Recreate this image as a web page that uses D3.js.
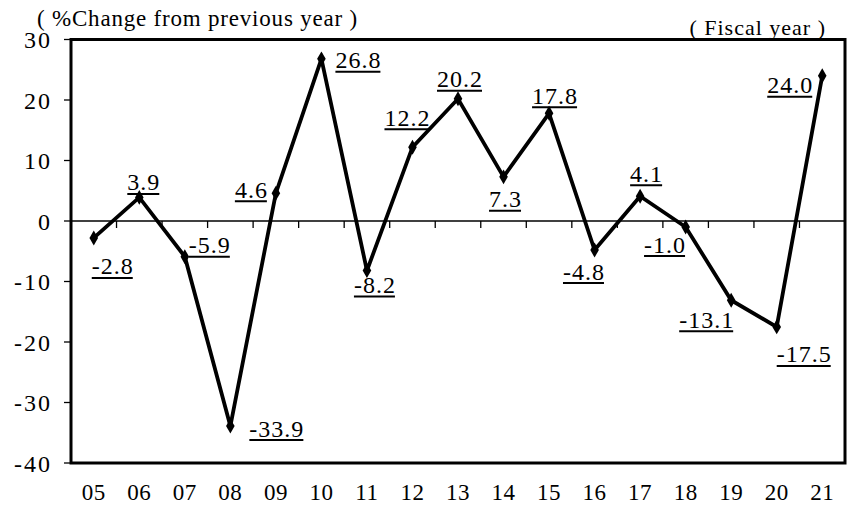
<!DOCTYPE html>
<html><head><meta charset="utf-8">
<script src="https://cdn.jsdelivr.net/npm/d3@7"></script>
<style>body{margin:0;background:#fff}svg{display:block}</style>
</head><body>
<svg id="c" width="854" height="505"></svg>
<script>
const years = ["05","06","07","08","09","10","11","12","13","14","15","16","17","18","19","20","21"];
const values = [-2.8,3.9,-5.9,-33.9,4.6,26.8,-8.2,12.2,20.2,7.3,17.8,-4.8,4.1,-1.0,-13.1,-17.5,24.0];
const yTicks = [30,20,10,0,-10,-20,-30,-40];
const yTitle = "( %Change from previous year )";
const xTitle = "( Fiscal year )";
// label placement: offset of text's left edge / underline from the point
const labelOffsets = [[-2,40],[-12,-3.5],[4,0],[19,14],[-41,8],[14,13],[-13,26],[-28,-18],[-21,-8],[-14.5,34],[-17,-6],[-31.6,33],[-10,-11],[-41.6,29],[-52,31],[0,39],[-55,21]];

const svg = d3.select("#c");
const L=71,R=845,T=39.5,B=463;
const x = d3.scaleBand().domain(years).range([L,R]);
const y = d3.scaleLinear().domain([-40,30]).range([B,T]);
const font = "'Liberation Serif','Times New Roman',serif";

// y ticks
svg.append("g").selectAll("line").data(yTicks).join("line")
  .attr("x1",L-7).attr("x2",L).attr("y1",d=>y(d)).attr("y2",d=>y(d))
  .attr("stroke","#000").attr("stroke-width",1.3);
svg.append("g").selectAll("text").data(yTicks).join("text")
  .attr("x",52).attr("y",d=>y(d)+8.5).attr("text-anchor","end")
  .attr("font-family",font).attr("font-size",24).attr("letter-spacing",2)
  .text(d=>d);

// zero axis with category ticks
svg.append("line").attr("x1",L).attr("x2",R).attr("y1",y(0)).attr("y2",y(0))
  .attr("stroke","#000").attr("stroke-width",1.3);
svg.append("g").selectAll("line").data(years.slice(1)).join("line")
  .attr("x1",d=>x(d)).attr("x2",d=>x(d)).attr("y1",y(0)).attr("y2",y(0)+7)
  .attr("stroke","#000").attr("stroke-width",1.3);

// frame
svg.append("rect").attr("x",L).attr("y",T).attr("width",R-L).attr("height",B-T)
  .attr("fill","none").attr("stroke","#000").attr("stroke-width",3);

// x labels
svg.append("g").selectAll("text").data(years).join("text")
  .attr("x",d=>x(d)+x.bandwidth()/2).attr("y",500).attr("text-anchor","middle")
  .attr("font-family",font).attr("font-size",23).attr("letter-spacing",0.5)
  .text(d=>d);

// line
const pts = years.map((d,i)=>({k:d,v:values[i],i}));
svg.append("path").datum(pts)
  .attr("d",d3.line().x(d=>x(d.k)+x.bandwidth()/2).y(d=>y(d.v)))
  .attr("fill","none").attr("stroke","#000").attr("stroke-width",3.8).attr("stroke-linejoin","miter");
svg.append("g").selectAll("path").data(pts).join("path")
  .attr("transform",d=>`translate(${x(d.k)+x.bandwidth()/2},${y(d.v)})`)
  .attr("d",d3.symbol(d3.symbolDiamond,64)).attr("fill","#000");

// data labels with underline
const lg = svg.append("g");
pts.forEach(d=>{
  const px = x(d.k)+x.bandwidth()/2, py = y(d.v);
  const [dx,dy] = labelOffsets[d.i];
  const t = lg.append("text").attr("x",px+dx).attr("y",py+dy-3.5)
    .attr("font-family",font).attr("font-size",24).attr("letter-spacing",1)
    .text(d.v.toFixed(1));
  const w = t.node().getComputedTextLength()-1;
  lg.append("line").attr("x1",px+dx).attr("x2",px+dx+w).attr("y1",py+dy).attr("y2",py+dy)
    .attr("stroke","#000").attr("stroke-width",2);
});

// titles
svg.append("text").attr("x",37).attr("y",26).attr("font-family",font).attr("font-size",23)
  .attr("letter-spacing",0.8).text(yTitle);
svg.append("text").attr("x",826).attr("y",35).attr("text-anchor","end").attr("font-family",font).attr("font-size",22)
  .attr("letter-spacing",1).text(xTitle);
</script>
</body></html>
